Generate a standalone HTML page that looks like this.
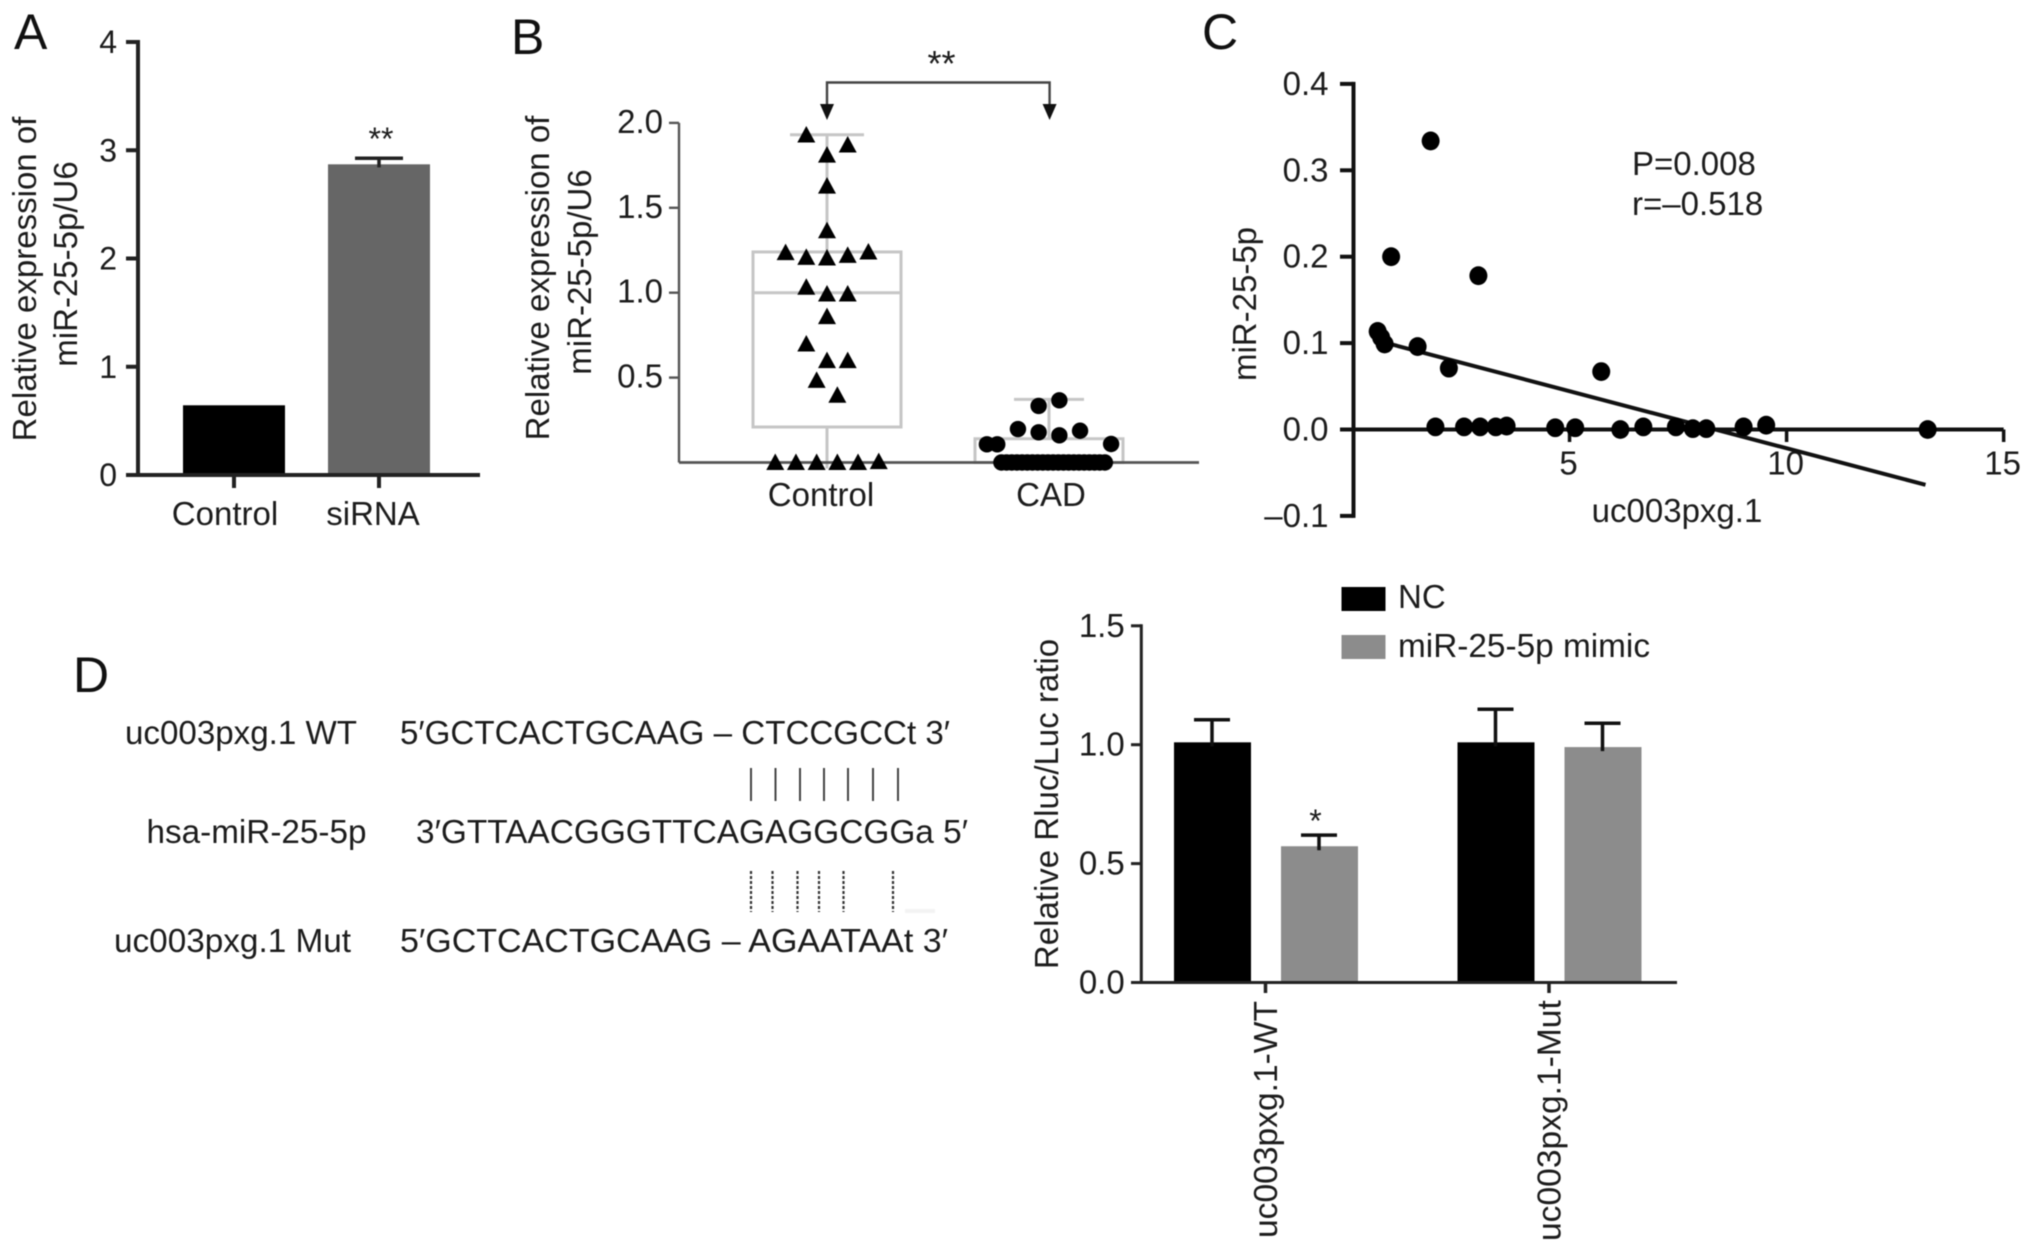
<!DOCTYPE html>
<html lang="en">
<head>
<meta charset="utf-8">
<title>miR-25-5p expression panels</title>
<style>
html,body{margin:0;padding:0;background:#fff;}
svg{display:block;filter:blur(0.6px);}
text{font-family:"Liberation Sans",sans-serif;fill:#1c1c1c;font-size:33px;}
.panel{font-size:50px;fill:#111;}
</style>
</head>
<body>
<svg id="figure" width="2031" height="1250" viewBox="0 0 2031 1250" xmlns="http://www.w3.org/2000/svg">
  <rect x="0" y="0" width="2031" height="1250" fill="#fff"/>

  <text class="panel" x="14" y="49">A</text>
  <text class="panel" x="511" y="54">B</text>
  <text class="panel" x="1202" y="49">C</text>
  <text class="panel" x="73" y="692">D</text>

  <g id="panel-a">
    <text text-anchor="middle" transform="translate(36 279) rotate(-90)">Relative expression of</text>
    <text text-anchor="middle" transform="translate(77 264) rotate(-90)">miR-25-5p/U6</text>
  </g>

  <g id="panel-b">
    <text text-anchor="middle" transform="translate(549 278) rotate(-90)">Relative expression of</text>
    <text text-anchor="middle" transform="translate(591 272) rotate(-90)">miR-25-5p/U6</text>
    <path d="M827 106V82.5H1049.6V106" fill="none" stroke="#444" stroke-width="2.4"/>
    <path d="M820 104H834L827 120Z" fill="#111"/>
    <path d="M1042.6 104H1056.6L1049.6 120Z" fill="#111"/>
    <text text-anchor="middle" x="941.5" y="76" style="font-size:36px">**</text>
  </g>

  <g id="panel-c">
    <text text-anchor="middle" transform="translate(1256 304) rotate(-90)">miR-25-5p</text>
    <text text-anchor="middle" x="1677" y="522">uc003pxg.1</text>
    <text x="1632" y="175">P=0.008</text>
    <text x="1632" y="215">r=–0.518</text>
  </g>

  <g id="panel-d-seq">
    <text x="125" y="744" textLength="232" lengthAdjust="spacingAndGlyphs">uc003pxg.1 WT</text>
    <text x="400" y="744" textLength="550" lengthAdjust="spacingAndGlyphs">5′GCTCACTGCAAG – CTCCGCCt 3′</text>
    <text x="146.5" y="843" textLength="220" lengthAdjust="spacingAndGlyphs">hsa-miR-25-5p</text>
    <text x="416" y="843" textLength="552" lengthAdjust="spacingAndGlyphs">3′GTTAACGGGTTCAGAGGCGGa 5′</text>
    <text x="114" y="952" textLength="237" lengthAdjust="spacingAndGlyphs">uc003pxg.1 Mut</text>
    <text x="400" y="952" textLength="548" lengthAdjust="spacingAndGlyphs">5′GCTCACTGCAAG – AGAATAAt 3′</text>
    <path d="M751 768V801M775.5 768V801M800 768V801M824 768V801M848 768V801M873 768V801M898 768V801" stroke="#444" stroke-width="2" fill="none"/>
    <path d="M751 871V912M772.5 871V912M797.5 871V912M819 871V912M843.5 871V912M893 871V912" stroke="#333" stroke-width="2.2" stroke-dasharray="3 2" fill="none"/>
    <rect x="905" y="909" width="30" height="4" fill="#f3f3f3"/>
  </g>

  <g id="panel-e">
    <text text-anchor="middle" transform="translate(1058 804) rotate(-90)">Relative Rluc/Luc ratio</text>
    <rect x="1341.5" y="587" width="44" height="24" fill="#000"/>
    <text x="1398" y="608">NC</text>
    <rect x="1341.5" y="635" width="44" height="24" fill="#8c8c8c"/>
    <text x="1398" y="657" textLength="252" lengthAdjust="spacingAndGlyphs">miR-25-5p mimic</text>
    <text text-anchor="middle" x="1315.5" y="832" style="font-size:32px">*</text>
  </g>
</svg>

<script>
// Panel A data
const aCategories = ['Control', 'siRNA'];
const aValues = [0.644, 2.87];
const aErrors = [0, 0.056];
const aTicks = [0, 1, 2, 3, 4];
const aTickLabels = ['0', '1', '2', '3', '4'];

// Panel B data
const bCategories = ['Control', 'CAD'];
const bTicks = [0.5, 1.0, 1.5, 2.0];
const bTickLabels = ['0.5', '1.0', '1.5', '2.0'];
const bQ1 = [0.209, 0];
const bMedian = [1.0, 0];
const bQ3 = [1.24, 0.14];
const bWhiskerHigh = [1.93, 0.372];
const bWhiskerLow = [0, 0];
const bControlValues = [1.929, 1.87, 1.81, 1.628, 1.365, 1.236, 1.208, 1.204, 1.22, 1.24, 1.032, 0.992, 0.992, 0.859, 0.698, 0.6, 0.6, 0.484, 0.396, 0, 0, 0, 0, 0, 0.005];
const bControlSlots = [-2, 2, 0, 0, 0, -4, -2, 0, 2, 4, -2, 0, 2, 0, -2, 0, 2, -1, 1, -5, -3, -1, 1, 3, 5];
const bCadValues = [0.333, 0.366, 0.197, 0.178, 0.16, 0.187, 0.107, 0.107, 0.109, 0, 0, 0, 0, 0, 0, 0, 0, 0, 0, 0, 0, 0, 0, 0, 0, 0, 0, 0, 0, 0];
const bCadSlots = [-1, 1, -3, -1, 1, 3, -6, -5, 6, -4.6, -4.1, -3.6, -3.1, -2.6, -2.1, -1.6, -1.1, -0.6, -0.1, 0.4, 0.9, 1.4, 1.9, 2.4, 2.9, 3.4, 3.9, 4.4, 4.9, 5.4];

// Panel C data
const cXTicks = [5, 10, 15];
const cXTickLabels = ['5', '10', '15'];
const cYTicks = [-0.1, 0, 0.1, 0.2, 0.3, 0.4];
const cYTickLabels = ['–0.1', '0.0', '0.1', '0.2', '0.3', '0.4'];
const cPointX = [1.8, 0.89, 2.9, 0.58, 0.66, 0.74, 1.5, 2.22, 5.73, 1.91, 2.57, 2.94, 3.3, 3.55, 4.67, 5.13, 6.17, 6.7, 7.45, 7.84, 8.15, 9.01, 9.53, 13.25];
const cPointY = [0.334, 0.2, 0.178, 0.1135, 0.1065, 0.099, 0.096, 0.071, 0.067, 0.003, 0.003, 0.003, 0.003, 0.004, 0.002, 0.002, 0, 0.003, 0.003, 0.001, 0.001, 0.003, 0.005, 0];
const cFitX = [0.79, 13.2];
const cFitY = [0.1, -0.064];

// Panel D (luciferase) data
const dCategories = ['uc003pxg.1-WT', 'uc003pxg.1-Mut'];
const dTicks = [0, 0.5, 1.0, 1.5];
const dTickLabels = ['0.0', '0.5', '1.0', '1.5'];
const dNcValues = [1.01, 1.01];
const dNcErrors = [0.095, 0.139];
const dMimicValues = [0.573, 0.99];
const dMimicErrors = [0.047, 0.10];

const NS = 'http://www.w3.org/2000/svg';
function mk(parent, tag, attrs, content) {
  const el = document.createElementNS(NS, tag);
  for (const k in attrs) el.setAttribute(k, attrs[k]);
  if (content !== undefined) el.textContent = content;
  parent.appendChild(el);
  return el;
}
function label(el, name) {
  
  
  return el;
}

/* ---------- Panel A ---------- */
(function () {
  const g = document.getElementById('panel-a');
  const y = v => 475 - v * 108.25;
  const cx = i => 234 + i * 145;
  const fills = ['#000', '#666'];
  aValues.forEach((v, i) => {
    const bar = mk(g, 'rect', { x: cx(i) - 51, y: y(v), width: 102, height: y(0) - y(v), fill: fills[i] });
    label(bar, 'bar-' + aCategories[i].toLowerCase());
    if (aErrors[i] > 0) {
      const e = mk(g, 'path', {
        d: `M${cx(i) - 24} ${y(v + aErrors[i])}H${cx(i) + 24}M${cx(i)} ${y(v + aErrors[i])}V${y(v) + 3}`,
        stroke: '#222', 'stroke-width': 3.5, fill: 'none'
      });
      label(e, 'error-bar-' + aCategories[i].toLowerCase());
    }
    const tick = mk(g, 'line', { x1: cx(i), x2: cx(i), y1: y(0), y2: 488, stroke: '#222', 'stroke-width': 4 });
    label(tick, 'x-tick-a');
    const t = mk(g, 'text', { x: cx(i) - 9 + i * 3, y: 525, 'text-anchor': 'middle' }, aCategories[i]);
    label(t, 'x-tick-label-a');
  });
  const yAxis = mk(g, 'line', { x1: 138, x2: 138, y1: y(4) - 2, y2: y(0), stroke: '#222', 'stroke-width': 4 });
  label(yAxis, 'y-axis-a');
  const xAxis = mk(g, 'line', { x1: 126, x2: 480, y1: y(0), y2: y(0), stroke: '#222', 'stroke-width': 4 });
  label(xAxis, 'x-axis-a');
  aTicks.forEach((v, i) => {
    const tk = mk(g, 'line', { x1: 126, x2: 138, y1: y(v), y2: y(v), stroke: '#222', 'stroke-width': 4 });
    label(tk, 'y-tick-a');
    const t = mk(g, 'text', { x: 117, y: y(v) + 11, 'text-anchor': 'end', style: 'font-size:32px' }, aTickLabels[i]);
    label(t, 'y-tick-label-a');
  });
  const star = mk(g, 'text', { x: 381, y: 150, 'text-anchor': 'middle', style: 'font-size:32px' }, '**');
  label(star, 'significance-stars-a');
})();

/* ---------- Panel B ---------- */
(function () {
  const g = document.getElementById('panel-b');
  const y = v => 462.5 - v * 169.8;
  const cx = i => 827 + i * 222;
  const slot = s => s * 10.35;
  const grey = '#c6c6c6';
  bQ1.forEach((_, i) => {
    const halfBox = 74, halfCap = i === 0 ? 37 : 35;
    const box = mk(g, 'rect', { x: cx(i) - halfBox, y: y(bQ3[i]), width: halfBox * 2, height: y(bQ1[i]) - y(bQ3[i]), fill: 'none', stroke: grey, 'stroke-width': 3 });
    label(box, 'box-' + bCategories[i].toLowerCase());
    const med = mk(g, 'line', { x1: cx(i) - halfBox, x2: cx(i) + halfBox, y1: y(bMedian[i]), y2: y(bMedian[i]), stroke: grey, 'stroke-width': 3 });
    label(med, 'median-' + bCategories[i].toLowerCase());
    const wh = mk(g, 'line', { x1: cx(i), x2: cx(i), y1: y(bWhiskerHigh[i]), y2: y(bQ3[i]), stroke: grey, 'stroke-width': 3 });
    label(wh, 'whisker-high-' + bCategories[i].toLowerCase());
    const wl = mk(g, 'line', { x1: cx(i), x2: cx(i), y1: y(bQ1[i]), y2: y(bWhiskerLow[i]) + 6, stroke: grey, 'stroke-width': 3 });
    label(wl, 'whisker-low-' + bCategories[i].toLowerCase());
    const cap = mk(g, 'line', { x1: cx(i) - halfCap, x2: cx(i) + halfCap, y1: y(bWhiskerHigh[i]), y2: y(bWhiskerHigh[i]), stroke: grey, 'stroke-width': 3 });
    label(cap, 'whisker-cap-' + bCategories[i].toLowerCase());
    const t = mk(g, 'text', { x: cx(i) - 6 + i * 8, y: 506, 'text-anchor': 'middle' }, bCategories[i]);
    label(t, 'x-tick-label-b');
  });
  const yAxis = mk(g, 'line', { x1: 679, x2: 679, y1: y(2), y2: y(0), stroke: '#555', 'stroke-width': 2.4 });
  label(yAxis, 'y-axis-b');
  const xAxis = mk(g, 'line', { x1: 679, x2: 1199, y1: y(0), y2: y(0), stroke: '#555', 'stroke-width': 2.8 });
  label(xAxis, 'x-axis-b');
  bTicks.forEach((v, i) => {
    const tk = mk(g, 'line', { x1: 669, x2: 679, y1: y(v), y2: y(v), stroke: '#555', 'stroke-width': 2.4 });
    label(tk, 'y-tick-b');
    const t = mk(g, 'text', { x: 663, y: y(v) + 10, 'text-anchor': 'end' }, bTickLabels[i]);
    label(t, 'y-tick-label-b');
  });
  bControlValues.forEach((v, i) => {
    const px = cx(0) + slot(bControlSlots[i]), py = y(v);
    const m = mk(g, 'path', { d: `M${px} ${py - 9}L${px + 9} ${py + 7.5}H${px - 9}Z`, fill: '#000' });
    label(m, 'control-point');
  });
  bCadValues.forEach((v, i) => {
    const m = mk(g, 'circle', { cx: cx(1) + slot(bCadSlots[i]), cy: y(v), r: 8.2, fill: '#000' });
    label(m, 'cad-point');
  });
})();

/* ---------- Panel C ---------- */
(function () {
  const g = document.getElementById('panel-c');
  const x = v => 1352.5 + v * 43.41;
  const y = v => 429.5 - v * 864;
  const yAxis = mk(g, 'line', { x1: 1353.5, x2: 1353.5, y1: y(0.4) - 2, y2: y(-0.1) + 2, stroke: '#111', 'stroke-width': 4 });
  label(yAxis, 'y-axis-c');
  const xAxis = mk(g, 'line', { x1: 1340, x2: x(15), y1: y(0), y2: y(0), stroke: '#111', 'stroke-width': 4 });
  label(xAxis, 'x-axis-c');
  cYTicks.forEach((v, i) => {
    const tk = mk(g, 'line', { x1: 1340, x2: 1353.5, y1: y(v), y2: y(v), stroke: '#111', 'stroke-width': 4 });
    label(tk, 'y-tick-c');
    const t = mk(g, 'text', { x: 1328.5, y: y(v) + 11, 'text-anchor': 'end' }, cYTickLabels[i]);
    label(t, 'y-tick-label-c');
  });
  cXTicks.forEach((v, i) => {
    const tk = mk(g, 'line', { x1: x(v), x2: x(v), y1: y(0), y2: 442, stroke: '#111', 'stroke-width': 3.5 });
    label(tk, 'x-tick-c');
    const t = mk(g, 'text', { x: x(v) - 1, y: 474.5, 'text-anchor': 'middle' }, cXTickLabels[i]);
    label(t, 'x-tick-label-c');
  });
  const fit = mk(g, 'line', { x1: x(cFitX[0]), y1: y(cFitY[0]), x2: x(cFitX[1]), y2: y(cFitY[1]), stroke: '#111', 'stroke-width': 4 });
  label(fit, 'regression-line');
  cPointX.forEach((v, i) => {
    const m = mk(g, 'ellipse', { cx: x(v), cy: y(cPointY[i]), rx: 9, ry: 9.4, fill: '#000' });
    label(m, 'scatter-point');
  });
})();

/* ---------- Panel D luciferase ---------- */
(function () {
  const g = document.getElementById('panel-e');
  const y = v => 982.5 - v * 237.8;
  const cx = i => 1265.5 + i * 283.5;
  const drawBar = (center, v, err, fill, name) => {
    const bar = mk(g, 'rect', { x: center - 38, y: y(v), width: 77, height: y(0) - y(v), fill: fill });
    label(bar, 'bar-' + name);
    const e = mk(g, 'path', {
      d: `M${center - 18} ${y(v + err)}H${center + 18}M${center} ${y(v + err)}V${y(v) + 4}`,
      stroke: '#111', 'stroke-width': 3.5, fill: 'none'
    });
    label(e, 'error-bar-' + name);
  };
  dCategories.forEach((c, i) => {
    drawBar(cx(i) - 53.5, dNcValues[i], dNcErrors[i], '#000', 'nc-' + i);
    drawBar(cx(i) + 53.5, dMimicValues[i], dMimicErrors[i], '#8c8c8c', 'mimic-' + i);
    const tk = mk(g, 'line', { x1: cx(i), x2: cx(i), y1: y(0), y2: 993, stroke: '#222', 'stroke-width': 3.5 });
    label(tk, 'x-tick-d');
    const t = mk(g, 'text', { 'text-anchor': 'start', transform: `translate(${1277 + i * 283.5} ${1238 + i * 3}) rotate(-90)`, style: 'font-size:33.6px' }, c);
    label(t, 'x-tick-label-d');
  });
  const yAxis = mk(g, 'line', { x1: 1141.3, x2: 1141.3, y1: y(1.5) - 1.5, y2: y(0), stroke: '#222', 'stroke-width': 3 });
  label(yAxis, 'y-axis-d');
  const xAxis = mk(g, 'line', { x1: 1131, x2: 1677, y1: y(0), y2: y(0), stroke: '#222', 'stroke-width': 3 });
  label(xAxis, 'x-axis-d');
  dTicks.forEach((v, i) => {
    const tk = mk(g, 'line', { x1: 1131, x2: 1141.3, y1: y(v), y2: y(v), stroke: '#222', 'stroke-width': 3 });
    label(tk, 'y-tick-d');
    const t = mk(g, 'text', { x: 1124.7, y: y(v) + 11, 'text-anchor': 'end' }, dTickLabels[i]);
    label(t, 'y-tick-label-d');
  });
})();
</script>
</body>
</html>
